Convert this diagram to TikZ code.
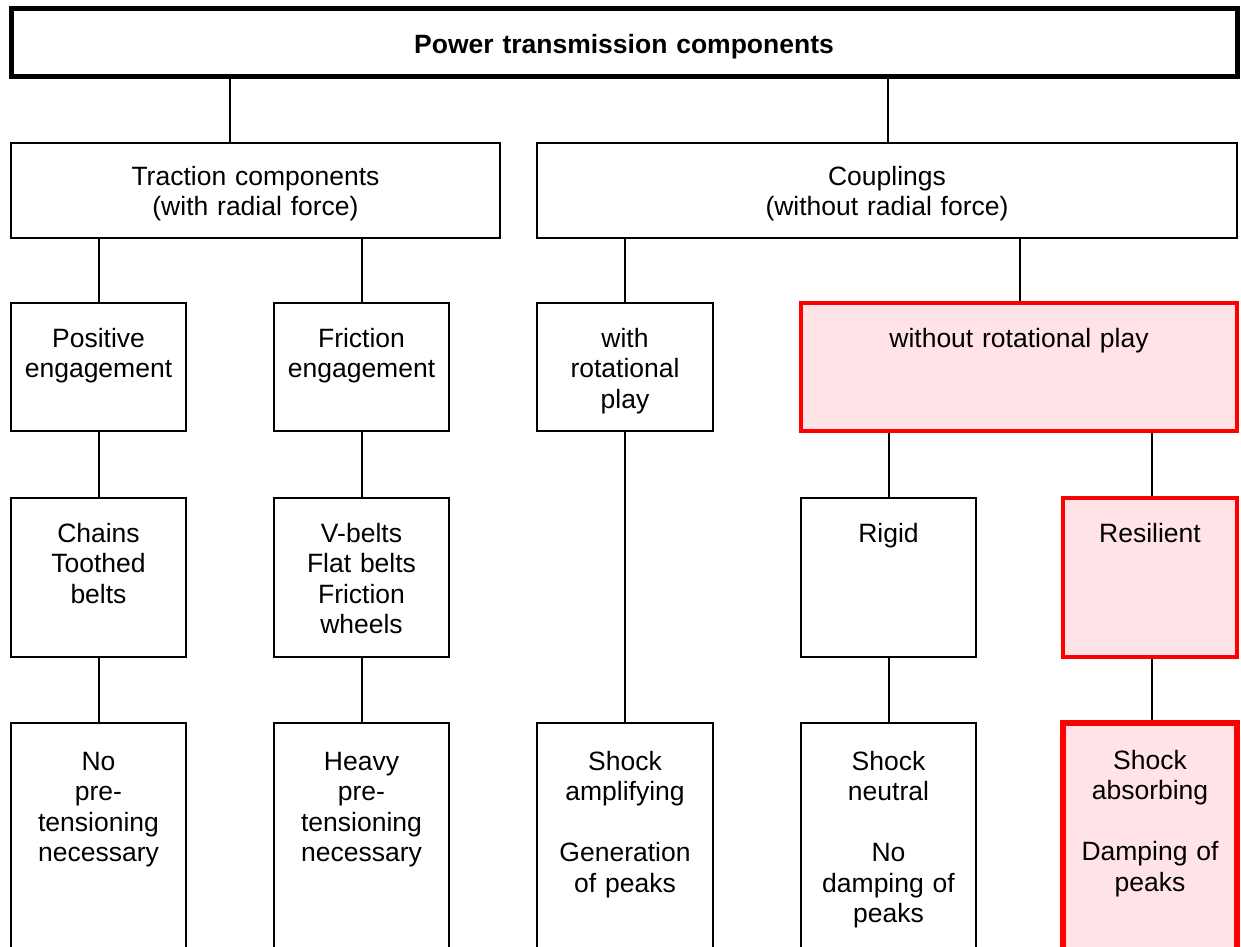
\documentclass[tikz,border=0pt]{standalone}
\usepackage{fontspec}
\setmainfont{Liberation Sans}
\usetikzlibrary{fit}
\definecolor{hired}{HTML}{FF0000}
\definecolor{hipink}{HTML}{FFE3E6}
\begin{document}
\begin{tikzpicture}[x=1pt,y=-1pt,
  box/.style={draw=black, line width=2pt, inner sep=0pt, rectangle},
  redbox/.style={draw=hired, fill=hipink, line width=3.5pt, inner sep=0pt, rectangle},
  titlebox/.style={draw=black, line width=5pt, inner sep=0pt, rectangle},
  txt/.style={inner sep=0pt, text width=400pt, align=center, anchor=base,
    font=\fontsize{26.5}{30.5}\selectfont},
  conn/.style={draw=black, line width=2pt}]
\useasboundingbox (0,0) rectangle (1241,946);
\clip (0,0) rectangle (1241,946);
\fill[white] (0,0) rectangle (1241,946);

% boxes
\node[titlebox, fit={(11,8)(1237,76)}] (title) {};
\node[box, fit={(11,143)(500,238)}] (trac) {};
\node[box, fit={(537,143)(1237,238)}] (coup) {};
\node[box, fit={(11,303)(186,431)}] (pos) {};
\node[box, fit={(274,303)(449,431)}] (fric) {};
\node[box, fit={(537,303)(713,431)}] (with) {};
\node[redbox, fit={(801,303)(1237,431)}] (without) {};
\node[box, fit={(11,498)(186,657)}] (chains) {};
\node[box, fit={(274,498)(449,657)}] (vbelts) {};
\node[box, fit={(801,498)(976,657)}] (rigid) {};
\node[redbox, fit={(1063,498)(1237,657)}] (resil) {};
\node[box, fit={(11,723)(186,990)}] (nopre) {};
\node[box, fit={(274,723)(449,990)}] (heavy) {};
\node[box, fit={(537,723)(713,990)}] (amp) {};
\node[box, fit={(801,723)(976,990)}] (neut) {};
\node[redbox, line width=6pt, fit={(1063,723)(1237,990)}] (absorb) {};

% texts
\node[txt, text width=900pt, anchor=center, font=\fontsize{26.5}{30.5}\selectfont\bfseries] (title-t) at ([yshift=-5pt]title.center) {Power transmission components};
\node[txt] (trac-t) at ([yshift=-43pt]trac.north) {Traction components\\(with radial force)};
\node[txt] (coup-t) at ([yshift=-43pt]coup.north) {Couplings\\(without radial force)};
\node[txt] (pos-t) at ([yshift=-45pt]pos.north) {Positive\\engagement};
\node[txt] (fric-t) at ([yshift=-45pt]fric.north) {Friction\\engagement};
\node[txt] (with-t) at ([yshift=-45pt]with.north) {with\\rotational\\play};
\node[txt] (without-t) at ([yshift=-46pt]without.north) {without rotational play};
\node[txt] (chains-t) at ([yshift=-45pt]chains.north) {Chains\\Toothed\\belts};
\node[txt] (vbelts-t) at ([yshift=-45pt]vbelts.north) {V-belts\\Flat belts\\Friction\\wheels};
\node[txt] (rigid-t) at ([yshift=-45pt]rigid.north) {Rigid};
\node[txt] (resil-t) at ([yshift=-46pt]resil.north) {Resilient};
\node[txt] (nopre-t) at ([yshift=-48pt]nopre.north) {No\\pre-\\tensioning\\necessary};
\node[txt] (heavy-t) at ([yshift=-48pt]heavy.north) {Heavy\\pre-\\tensioning\\necessary};
\node[txt] (amp-t) at ([yshift=-48pt]amp.north) {Shock\\amplifying\\[30.5pt]Generation\\of peaks};
\node[txt] (neut-t) at ([yshift=-48pt]neut.north) {Shock\\neutral\\[30.5pt]No\\damping of\\peaks};
\node[txt] (absorb-t) at ([yshift=-49pt]absorb.north) {Shock\\absorbing\\[30.5pt]Damping of\\peaks};

% connectors
\draw[conn] (title.south -| 230,0) -- (trac.north -| 230,0);
\draw[conn] (title.south -| 888,0) -- (coup.north -| 888,0);
\draw[conn] (trac.south -| pos) -- (pos.north);
\draw[conn] (trac.south -| fric) -- (fric.north);
\draw[conn] (coup.south -| with) -- (with.north);
\draw[conn] (coup.south -| 1020,0) -- (without.north -| 1020,0);
\draw[conn] (pos.south) -- (chains.north);
\draw[conn] (fric.south) -- (vbelts.north);
\draw[conn] (without.south -| rigid) -- (rigid.north);
\draw[conn] (without.south -| 1152,0) -- (resil.north -| 1152,0);
\draw[conn] (chains.south) -- (nopre.north);
\draw[conn] (vbelts.south) -- (heavy.north);
\draw[conn] (with.south) -- (amp.north);
\draw[conn] (rigid.south) -- (neut.north);
\draw[conn] (resil.south -| 1152,0) -- (absorb.north -| 1152,0);
\end{tikzpicture}
\end{document}
